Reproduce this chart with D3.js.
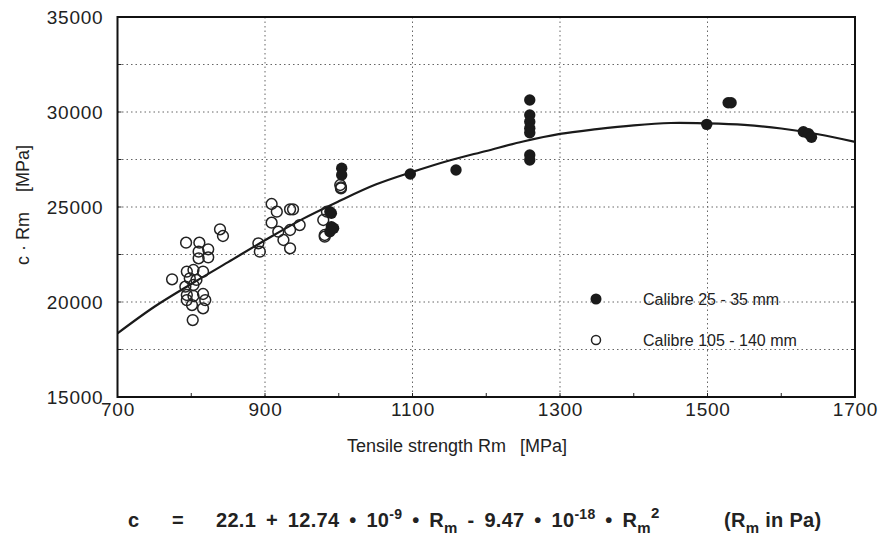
<!DOCTYPE html>
<html><head><meta charset="utf-8">
<script src="https://cdn.jsdelivr.net/npm/d3@7"></script>
<style>body{margin:0;background:#fff}svg{display:block}text{font-family:"Liberation Sans",Arial,sans-serif;fill:#222}</style>
</head><body><svg id="c" width="886" height="549"></svg>
<script>
const xTicks=[700,900,1100,1300,1500,1700];
const yTicks=[15000,20000,25000,30000,35000];
const yGrid=[17500,20000,22500,25000,27500,30000,32500];
const xGrid=[900,1100,1300,1500];
// Calibre 105 - 140 mm (open)
const openRm=[839,843,793,811,823,810,810,823,774,794,803,816,798,807,792,803,794,803,816,819,801,816,802,794,909,916,934,938,909,918,934,947,925,934,891,893,984,979,981,981,1002,1003,1003];
const openCR=[23826,23474,23121,23121,22774,22650,22300,22350,21195,21600,21684,21600,21247,21160,20805,20895,20368,20316,20420,20100,19840,19668,19050,20100,25158,24753,24877,24877,24174,23700,23790,24050,23263,22826,23090,22650,24753,24316,23526,23437,26158,25984,26037];
// Calibre 25 - 35 mm (filled)
const fillRm=[990,990,988,993,988,1004,1004,1097,1159,1259,1259,1259,1259,1259,1259,1259,1528,1532,1499,1630,1637,1641];
const fillCR=[24668,23963,23700,23879,24753,27037,26684,26737,26947,30632,29842,29490,29140,28910,27737,27474,30490,30490,29350,28963,28860,28668];
// fitted curve
const curveRm=[700,750,800,850,900,950,1000,1050,1100,1150,1200,1250,1300,1350,1400,1450,1500,1550,1600,1650,1700];
const curveCR=[18350,19750,20950,22100,23250,24350,25300,26180,26850,27450,27950,28450,28850,29100,29300,29420,29400,29320,29130,28830,28430];
const legendLabels=["Calibre 25 - 35 mm","Calibre 105 - 140 mm"];

const svg=d3.select("#c");
const L=117.5,R=855,T=17,B=397;
const x=d3.scaleLinear().domain([700,1700]).range([L,R]);
const y=d3.scaleLinear().domain([15000,35000]).range([B,T]);

// grid
svg.append("g").selectAll("line").data(yGrid).join("line")
 .attr("x1",L).attr("x2",R).attr("y1",d=>y(d)).attr("y2",d=>y(d))
 .attr("stroke","#666").attr("stroke-width",1).attr("stroke-dasharray","1.5,3");
svg.append("g").selectAll("line").data(xGrid).join("line")
 .attr("y1",T).attr("y2",B).attr("x1",d=>x(d)).attr("x2",d=>x(d))
 .attr("stroke","#666").attr("stroke-width",1).attr("stroke-dasharray","1.5,3");

// axes
const xa=svg.append("g").attr("transform",`translate(0,${B})`)
 .call(d3.axisBottom(x).tickValues(xTicks).tickSize(0).tickPadding(6).tickFormat(d3.format("d")));
const ya=svg.append("g").attr("transform",`translate(${L},0)`)
 .call(d3.axisLeft(y).tickValues(yTicks).tickSize(0).tickPadding(14).tickFormat(d3.format("d")));
[xa,ya].forEach(a=>{a.select(".domain").remove();a.selectAll("text").attr("font-size",19).attr("letter-spacing",0.8).attr("fill","#222").attr("font-family","Liberation Sans, Arial, sans-serif");});
ya.selectAll("text").attr("dy","0.35em");
// small inner ticks
svg.append("g").selectAll("line").data(d3.range(700,1701,100)).join("line")
 .attr("x1",d=>x(d)).attr("x2",d=>x(d)).attr("y1",B).attr("y2",B-4).attr("stroke","#222");
svg.append("g").selectAll("line").data(d3.range(15000,35001,2500)).join("line")
 .attr("x1",L).attr("x2",L+4).attr("y1",d=>y(d)).attr("y2",d=>y(d)).attr("stroke","#222");
svg.append("g").selectAll("line").data(d3.range(15000,35001,2500)).join("line")
 .attr("x1",R).attr("x2",R-4).attr("y1",d=>y(d)).attr("y2",d=>y(d)).attr("stroke","#222");

// curve
const line=d3.line().x(d=>x(d[0])).y(d=>y(d[1])).curve(d3.curveCatmullRom);
svg.append("path").datum(curveRm.map((d,i)=>[d,curveCR[i]]))
 .attr("d",line).attr("fill","none").attr("stroke","#1a1a1a").attr("stroke-width",2.2);

// points
svg.append("g").selectAll("circle").data(openRm.map((d,i)=>[d,openCR[i]])).join("circle")
 .attr("cx",d=>x(d[0])).attr("cy",d=>y(d[1])).attr("r",5.4)
 .attr("fill","none").attr("stroke","#222").attr("stroke-width",1.5);
svg.append("g").selectAll("circle").data(fillRm.map((d,i)=>[d,fillCR[i]])).join("circle")
 .attr("cx",d=>x(d[0])).attr("cy",d=>y(d[1])).attr("r",5.7).attr("fill","#1a1a1a");

// frame
svg.append("rect").attr("x",L).attr("y",T).attr("width",R-L).attr("height",B-T)
 .attr("fill","none").attr("stroke","#111").attr("stroke-width",2);

// legend
const lg=svg.append("g");
lg.append("circle").attr("cx",596).attr("cy",299).attr("r",5.5).attr("fill","#1a1a1a");
lg.append("circle").attr("cx",596).attr("cy",340).attr("r",4.5).attr("fill","none").attr("stroke","#222").attr("stroke-width",1.5);
lg.selectAll("text").data(legendLabels).join("text")
 .attr("x",643).attr("y",(d,i)=>299+i*41).attr("dy","0.35em").attr("font-size",16).text(d=>d);

// axis titles
svg.append("text").attr("x",347).attr("y",452).attr("font-size",18).text("Tensile strength Rm");
svg.append("text").attr("x",520).attr("y",452).attr("font-size",18).text("[MPa]");
const yt=svg.append("text").attr("transform","translate(29,205) rotate(-90)").attr("text-anchor","middle").attr("font-size",18)
 .attr("xml:space","preserve").text("c · Rm    [MPa]");

// formula
const fy=527, fs=20;
const f=svg.append("g").attr("font-weight","bold").attr("font-size",fs);
f.append("text").attr("x",128).attr("y",fy).text("c");
f.append("text").attr("x",172).attr("y",fy).text("=");
const t=f.append("text").attr("x",216).attr("y",fy).attr("word-spacing",4).attr("letter-spacing",0.3);
t.append("tspan").text("22.1 + 12.74 • 10");
t.append("tspan").attr("dy",-8).attr("font-size",14).text("-9");
t.append("tspan").attr("dy",8).text(" • R");
t.append("tspan").attr("dy",6).attr("font-size",15).text("m");
t.append("tspan").attr("dy",-6).text(" - 9.47 • 10");
t.append("tspan").attr("dy",-8).attr("font-size",14).text("-18");
t.append("tspan").attr("dy",8).text(" • R");
t.append("tspan").attr("dy",6).attr("font-size",15).text("m");
t.append("tspan").attr("dy",-15).attr("font-size",15).text("2");
const p=f.append("text").attr("x",724).attr("y",fy).attr("letter-spacing",0.3);
p.append("tspan").text("(R");
p.append("tspan").attr("dy",6).attr("font-size",15).text("m");
p.append("tspan").attr("dy",-6).text(" in Pa)");
</script></body></html>
